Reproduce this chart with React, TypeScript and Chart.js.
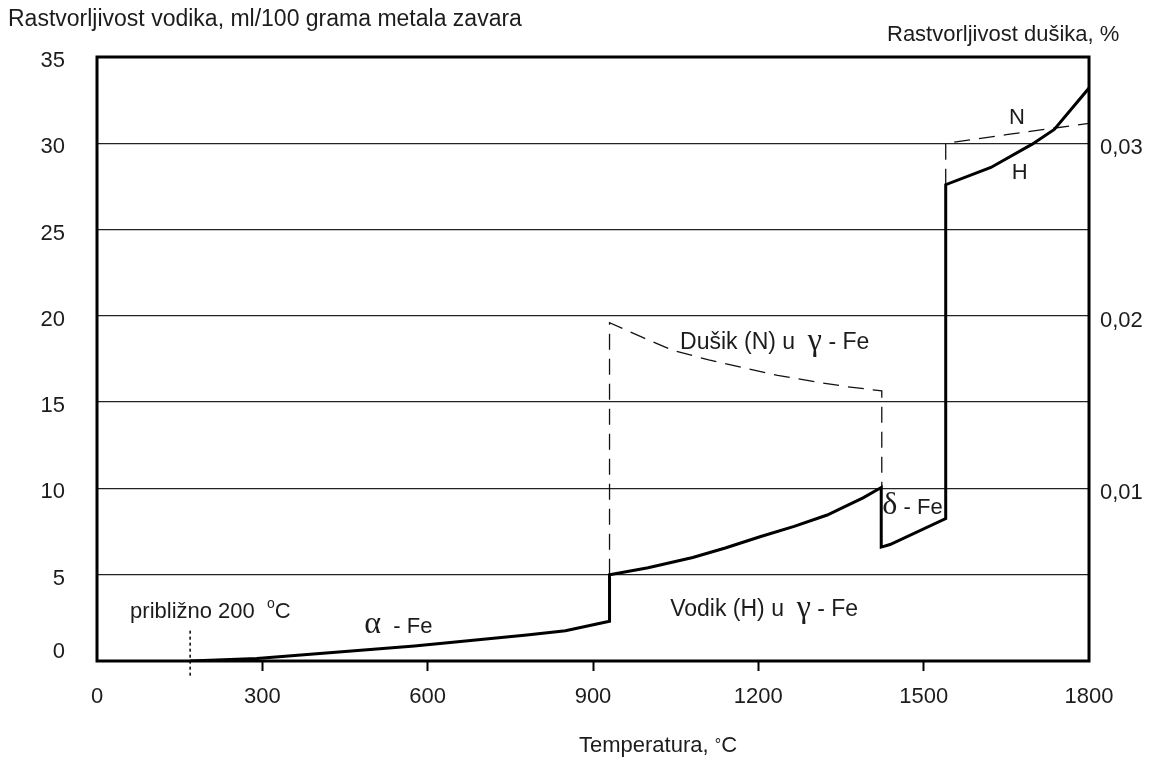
import React, { useEffect, useRef } from 'react';
import { Chart, registerables } from 'chart.js';

Chart.register(...registerables);

// ---- data ----
const xTicks = [0, 300, 600, 900, 1200, 1500, 1800];
const leftTicks = [0, 5, 10, 15, 20, 25, 30, 35];
const rightTickValues = [0.01, 0.02, 0.03];
const rightTickLabels = ['0,01', '0,02', '0,03'];

// Hydrogen solubility (solid thick line), ml/100 g
const hTemp = [169, 290, 576, 780, 850, 930, 930, 1000, 1081, 1140, 1203, 1265, 1325, 1354, 1390, 1423, 1423, 1439, 1540, 1540, 1622, 1697, 1737, 1800];
const hSol = [0, 0.15, 0.87, 1.5, 1.75, 2.3, 5.0, 5.4, 6.0, 6.55, 7.2, 7.8, 8.46, 8.9, 9.45, 10.05, 6.6, 6.75, 8.25, 27.6, 28.6, 29.95, 30.8, 33.2];

// Nitrogen solubility (dashed line), on the left scale units (0,01 % = 10)
const nTemp = [930, 930, 990, 1045, 1110, 1172, 1235, 1299, 1360, 1424, 1424, 1480, 1540, 1540, 1650, 1730, 1800];
const nSol: (number | null)[] = [5.0, 19.6, 18.75, 18.0, 17.45, 17.0, 16.55, 16.2, 15.9, 15.65, 10.05, null, 27.6, 30.0, 30.5, 30.85, 31.15];

// dotted marker at ~200 °C
const markTemp = [169, 169];
const markSol = [-0.85, 1.9];

const FONT = '"Liberation Sans", Arial, sans-serif';
const GREEK = '"Liberation Serif", "DejaVu Serif", serif';
const TXT = '#1c1c1c';

type Run = { t: string; font: string; dy?: number };

function drawRuns(ctx: CanvasRenderingContext2D, x: number, y: number, runs: Run[]) {
  let cx = x;
  for (const r of runs) {
    ctx.font = r.font;
    ctx.fillText(r.t, cx, y + (r.dy || 0));
    cx += ctx.measureText(r.t).width;
  }
}

const framePlugin = {
  id: 'frameAndText',
  afterDatasetsDraw(chart: any) {
    const { ctx, chartArea: a, scales } = chart;
    const xs = scales.x;
    const ys = scales.y;
    ctx.save();
    ctx.strokeStyle = '#000';
    ctx.lineWidth = 3;
    ctx.strokeRect(a.left, a.top, a.right - a.left, a.bottom - a.top);

    ctx.fillStyle = TXT;
    ctx.textBaseline = 'alphabetic';
    ctx.textAlign = 'left';
    const f = (s: number) => `${s}px ${FONT}`;
    const g = (s: number) => `${s}px ${GREEK}`;
    const px = (v: number) => xs.getPixelForValue(v);
    const py = (v: number) => ys.getPixelForValue(v);

    // titles
    drawRuns(ctx, 8, 26, [{ t: 'Rastvorljivost vodika, ml/100 grama metala zavara', font: f(23) }]);
    drawRuns(ctx, 887, 41, [{ t: 'Rastvorljivost dušika, %', font: f(22) }]);
    drawRuns(ctx, 579, 752, [
      { t: 'Temperatura, ', font: f(22) },
      { t: '°', font: f(16), dy: -2 },
      { t: 'C', font: f(22) },
    ]);

    // annotations placed in data coordinates
    drawRuns(ctx, px(60), py(2.5), [
      { t: 'približno 200  ', font: f(22) },
      { t: 'o', font: f(14), dy: -10 },
      { t: 'C', font: f(22) },
    ]);
    drawRuns(ctx, px(485), py(1.6), [
      { t: 'α', font: g(32) },
      { t: '  - Fe', font: f(22) },
    ]);
    drawRuns(ctx, px(1040), py(2.6), [
      { t: 'Vodik (H) u  ', font: f(23) },
      { t: 'γ', font: g(32), dy: 1 },
      { t: ' - Fe', font: f(23) },
    ]);
    drawRuns(ctx, px(1058), py(18.1), [
      { t: 'Dušik (N) u  ', font: f(23) },
      { t: 'γ', font: g(32), dy: 1 },
      { t: ' - Fe', font: f(23) },
    ]);
    drawRuns(ctx, px(1425), py(8.5), [
      { t: 'δ', font: g(32) },
      { t: ' - Fe', font: f(22) },
    ]);
    drawRuns(ctx, px(1655), py(31.1), [{ t: 'N', font: f(22) }]);
    drawRuns(ctx, px(1660), py(27.95), [{ t: 'H', font: f(22) }]);
    ctx.restore();
  },
};

function pts(xa: number[], ya: (number | null)[]) {
  return xa.map((x, i) => ({ x, y: ya[i] }));
}

export default function App() {
  const ref = useRef<HTMLCanvasElement | null>(null);

  useEffect(() => {
    if (!ref.current) return;
    const tickFont = { family: FONT, size: 22 };
    const chart = new Chart(ref.current, {
      type: 'line',
      data: {
        datasets: [
          {
            label: 'H',
            data: pts(hTemp, hSol) as any,
            borderColor: '#000',
            borderWidth: 3,
            pointRadius: 0,
            tension: 0,
            fill: false,
          },
          {
            label: 'N',
            data: pts(nTemp, nSol) as any,
            borderColor: '#111',
            borderWidth: 1.3,
            borderDash: [16, 9],
            pointRadius: 0,
            tension: 0,
            spanGaps: false,
            fill: false,
          },
          {
            label: 'mark',
            data: pts(markTemp, markSol) as any,
            borderColor: '#111',
            borderWidth: 1.6,
            borderDash: [3, 3],
            pointRadius: 0,
            tension: 0,
            fill: false,
            clip: false as any,
          },
        ],
      },
      options: {
        animation: false,
        responsive: false,
        events: [],
        layout: { padding: { top: 57, left: 0, right: 0, bottom: 0 } },
        plugins: { legend: { display: false }, tooltip: { enabled: false }, title: { display: false } },
        scales: {
          x: {
            type: 'linear',
            min: 0,
            max: 1800,
            afterBuildTicks: (s: any) => { s.ticks = xTicks.map((v) => ({ value: v })); },
            afterFit: (s: any) => { s.height = 103; },
            ticks: {
              font: tickFont,
              color: TXT,
              padding: 13,
              maxRotation: 0,
              autoSkip: false,
              callback: (v: any) => String(v),
            },
            grid: {
              drawOnChartArea: false,
              drawTicks: true,
              tickLength: 10,
              tickWidth: 2,
              tickColor: (c: any) => (c.tick && (c.tick.value === 0 || c.tick.value === 1800) ? 'rgba(0,0,0,0)' : '#000'),
            },
            border: { display: false },
          },
          y: {
            type: 'linear',
            position: 'left',
            min: 0,
            max: 35,
            afterBuildTicks: (s: any) => { s.ticks = leftTicks.map((v) => ({ value: v })); },
            afterFit: (s: any) => { s.width = 97; },
            ticks: {
              font: tickFont,
              color: TXT,
              padding: 32,
              labelOffset: 4,
              // the "0" label sits a little above the axis line in the original
              callback: (v: any) => (v === 0 ? ['0', ''] : String(v)),
            },
            grid: {
              drawTicks: false,
              lineWidth: 1.3,
              color: (c: any) => (c.tick && (c.tick.value === 0 || c.tick.value === 35) ? 'rgba(0,0,0,0)' : '#222'),
            },
            border: { display: false },
          },
          y1: {
            type: 'linear',
            position: 'right',
            min: 0,
            max: 0.035,
            afterBuildTicks: (s: any) => { s.ticks = rightTickValues.map((v) => ({ value: v })); },
            afterFit: (s: any) => { s.width = 67; },
            ticks: {
              font: tickFont,
              color: TXT,
              padding: 11,
              labelOffset: 5,
              callback: (_v: any, i: number) => rightTickLabels[i],
            },
            grid: { drawOnChartArea: false, drawTicks: false },
            border: { display: false },
          },
        },
      },
      plugins: [framePlugin],
    });
    return () => chart.destroy();
  }, []);

  return (
    <div style={{ position: 'fixed', left: 0, top: 0, width: 1156, height: 764, background: '#fff' }}>
      <canvas ref={ref} width={1156} height={764} style={{ display: 'block', width: 1156, height: 764 }} />
    </div>
  );
}
